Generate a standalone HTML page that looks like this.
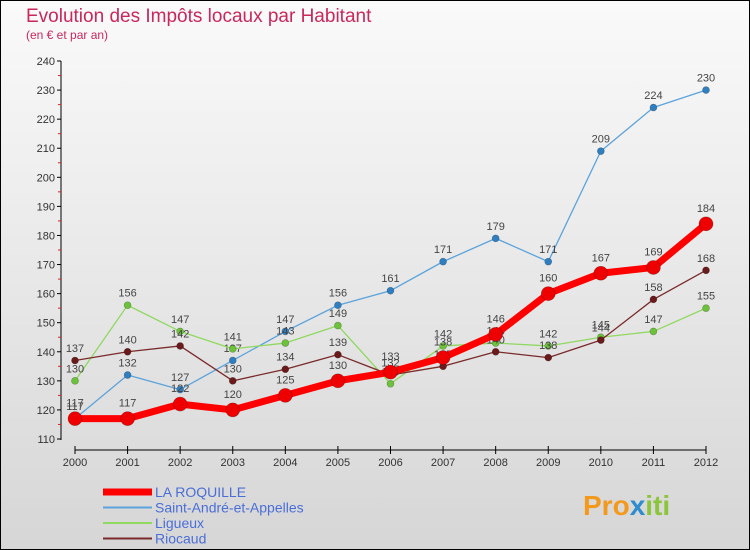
<!DOCTYPE html>
<html><head><meta charset="utf-8"><style>
body{margin:0;width:750px;height:550px;overflow:hidden}
svg{display:block;font-family:"Liberation Sans",sans-serif}
</style></head><body>
<svg id="chart" width="750" height="550">
<defs><linearGradient id="bg" x1="0" y1="0" x2="0" y2="1"><stop offset="0" stop-color="#fafafa"/><stop offset="1" stop-color="#d6d6d6"/></linearGradient></defs>
<rect x="0.5" y="0.5" width="749" height="549" fill="url(#bg)" stroke="#000"/>
<text x="26" y="22" font-size="19" fill="#c8285a">Evolution des Impôts locaux par Habitant</text>
<text x="26" y="39" font-size="12" fill="#c8285a">(en € et par an)</text>
<g id="axes"></g><g id="series"></g><g id="legend"></g>
<text x="583" y="515" font-size="28" font-weight="bold" fill="#f39a1e">Pro<tspan fill="#2e8ccf">x</tspan><tspan fill="#8cc43c">iti</tspan></text>
</svg>
<script>
const years=["2000","2001","2002","2003","2004","2005","2006","2007","2008","2009","2010","2011","2012"];
const yTicks=[110,120,130,140,150,160,170,180,190,200,210,220,230,240];
const roquille=[117,117,122,120,125,130,133,138,146,160,167,169,184];
const standre=[117,132,127,137,147,156,161,171,179,171,209,224,230];
const ligueux=[130,156,147,141,143,149,129,142,143,142,145,147,155];
const riocaud=[137,140,142,130,134,139,132,135,140,138,144,158,168];
const NS="http://www.w3.org/2000/svg";
const X=i=>75+i*(706-75)/(years.length-1);
const Y=v=>439-(v-110)*(439-61)/130;
function mk(p,t,a){const e=document.createElementNS(NS,t);for(const k in a)e.setAttribute(k,a[k]);p.appendChild(e);return e;}
const ax=document.getElementById('axes');
let l=mk(ax,'line',{x1:61,y1:61,x2:61,y2:440,stroke:'#000'});


l=mk(ax,'line',{x1:75,y1:450,x2:706,y2:450,stroke:'#000'});


yTicks.forEach((v,i)=>{
  mk(ax,'line',{x1:57,y1:Y(v),x2:61,y2:Y(v),stroke:'#000'});
  if(i<yTicks.length-1)mk(ax,'line',{x1:58,y1:Y(v+5),x2:61,y2:Y(v+5),stroke:'#e02020'});
  const t=mk(ax,'text',{x:55,y:Y(v)+4,'font-size':11,'text-anchor':'end',fill:'#333'});
  t.textContent=v;
  
  
});
years.forEach((y,i)=>{
  mk(ax,'line',{x1:X(i),y1:446,x2:X(i),y2:454,stroke:'#000'});
  const t=mk(ax,'text',{x:X(i),y:466,'font-size':11,'text-anchor':'middle',fill:'#333'});
  t.textContent=y;
  
  
});
const sg=document.getElementById('series');
const series=[
 {name:'Saint-André-et-Appelles',d:standre,c:'#5ba3dc',pc:'#2f7fc0',w:1.3,r:3.5},
 {name:'Ligueux',d:ligueux,c:'#90d860',pc:'#6cc23a',w:1.3,r:3.5},
 {name:'Riocaud',d:riocaud,c:'#7a2a2a',pc:'#6a1a1a',w:1.3,r:3.5},
 {name:'LA ROQUILLE',d:roquille,c:'#ff0000',pc:'#ee0000',w:7,r:7}
];
series.forEach(s=>{
  const g=mk(sg,'g',{});
  
  
  const pl=mk(g,'polyline',{points:s.d.map((v,i)=>X(i)+','+Y(v)).join(' '),fill:'none',stroke:s.c,'stroke-width':s.w,'stroke-linejoin':'round'});
  
  
  s.d.forEach((v,i)=>{
    const c=mk(g,'circle',{cx:X(i),cy:Y(v),r:s.r,fill:s.pc,stroke:'rgba(0,0,0,0.3)','stroke-width':0.6});
    
    
    const t=mk(g,'text',{x:X(i),y:Y(v)-(s.r+5),'font-size':11,'text-anchor':'middle',fill:'#444'});
    t.textContent=v;
    
    
  });
});
const lg=document.getElementById('legend');
const leg=[['LA ROQUILLE','#ff0000',7],['Saint-André-et-Appelles','#5ba3dc',2],['Ligueux','#90d860',2],['Riocaud','#7a2a2a',2]];
leg.forEach((e,i)=>{
  const y=492+i*15.5;
  const g=mk(lg,'g',{});
  
  
  mk(g,'line',{x1:103,y1:y,x2:152,y2:y,stroke:e[1],'stroke-width':e[2]});
  const t=mk(g,'text',{x:155,y:y+5,'font-size':14,fill:'#4a6ed8'});
  t.textContent=e[0];
});
</script>
</body></html>
